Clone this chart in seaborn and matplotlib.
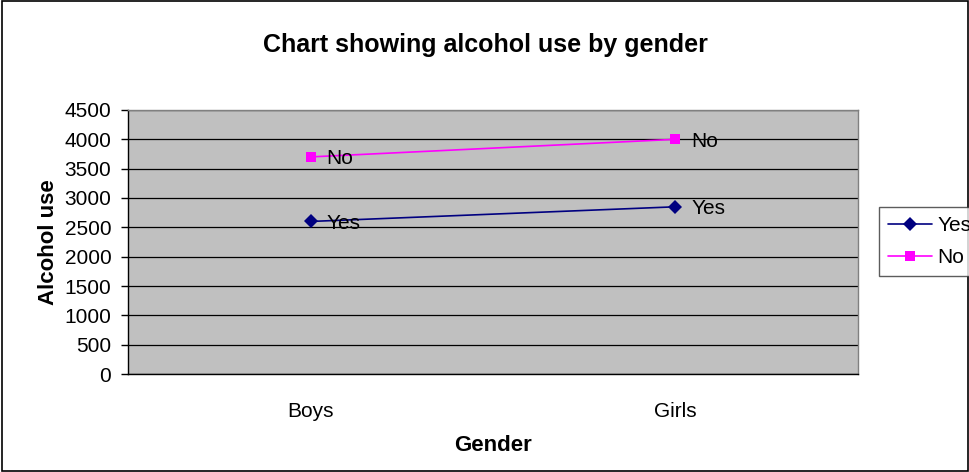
import matplotlib
matplotlib.use("Agg")
import matplotlib.pyplot as plt
import seaborn as sns
import pandas as pd
from matplotlib.patches import Rectangle
from matplotlib.lines import Line2D

# Alcohol use by gender
genders = ["Boys", "Girls"]
yes_values = [2600, 2850]
no_values = [3700, 4000]
series_names = ["Yes", "No"]
y_ticks = [0, 500, 1000, 1500, 2000, 2500, 3000, 3500, 4000, 4500]

df = pd.DataFrame({
    "Gender": genders * 2,
    "Alcohol use": yes_values + no_values,
    "Series": [series_names[0]] * len(genders) + [series_names[1]] * len(genders),
})
df["pos"] = df["Gender"].map({g: i for i, g in enumerate(genders)})

sns.set_style("white")
plt.rcParams["font.family"] = ["Liberation Sans", "DejaVu Sans"]
plt.rcParams.update({"text.color": "black", "axes.labelcolor": "black",
                     "xtick.color": "black", "ytick.color": "black"})

fig = plt.figure(figsize=(9.7, 4.72), dpi=100)
ax = fig.add_axes([0.132, 0.2076, 0.7525, 0.5594])
ax.set_facecolor("#C0C0C0")

palette = {"Yes": "#000080", "No": "#FF00FF"}
markers = {"Yes": "D", "No": "s"}
sns.lineplot(data=df, x="pos", y="Alcohol use", hue="Series", style="Series",
             palette=palette, markers=markers, dashes=False, linewidth=1.2,
             markersize=7, markeredgewidth=0, ax=ax, legend=False, zorder=3)

# data labels next to each point
for name, vals in zip(series_names, [yes_values, no_values]):
    for i, v in enumerate(vals):
        ax.annotate(name, (i, v), xytext=(11.5, -1.5), textcoords="offset points",
                    ha="left", va="center", fontsize=15, color="black", zorder=4)

ax.set_xlim(-0.5, 1.5)
ax.set_ylim(0, 4500)
ax.set_yticks(y_ticks)
ax.set_yticklabels([str(t) for t in y_ticks], fontsize=15)
ax.yaxis.grid(True, color="black", linewidth=0.9, zorder=1)
ax.set_axisbelow(True)

ax.set_xticks(range(len(genders)))
ax.set_xticklabels(genders, fontsize=15)
ax.set_xticks([-0.5, 0.5, 1.5], minor=True)
ax.tick_params(axis="x", which="major", length=0, pad=20)
ax.tick_params(axis="x", which="minor", length=5, width=1, color="black", direction="out")
ax.tick_params(axis="y", which="major", length=5, width=1, color="black", direction="out", left=True, pad=7)

for side in ["left", "bottom"]:
    ax.spines[side].set_color("black")
    ax.spines[side].set_linewidth(1)
for side in ["top", "right"]:
    ax.spines[side].set_color("#808080")
    ax.spines[side].set_linewidth(1)

ax.set_xlabel("Gender", fontsize=16, fontweight="bold", labelpad=10)
ax.set_ylabel("Alcohol use", fontsize=16, fontweight="bold", labelpad=4)

fig.text(0.5, 0.905, "Chart showing alcohol use by gender", ha="center", va="center",
         fontsize=18, fontweight="bold")

# legend
handles = [Line2D([], [], color=palette[n], marker=markers[n], markersize=7 if n == "Yes" else 6.5,
                  markeredgewidth=0, linewidth=1.2) for n in series_names]
leg = fig.legend(handles, series_names, loc="upper left", bbox_to_anchor=(0.906, 0.5614),
                 fontsize=15, frameon=True, fancybox=False, edgecolor="#333333",
                 handlelength=2.1, handletextpad=0.25, borderpad=0.45, labelspacing=0.6,
                 borderaxespad=0)
leg.get_frame().set_linewidth(1)

# outer chart border
fig.patches.append(Rectangle((0.002, 0.003), 0.996, 0.994, transform=fig.transFigure,
                             fill=False, edgecolor="black", linewidth=1.2))

fig.savefig("out.png", dpi=100)
